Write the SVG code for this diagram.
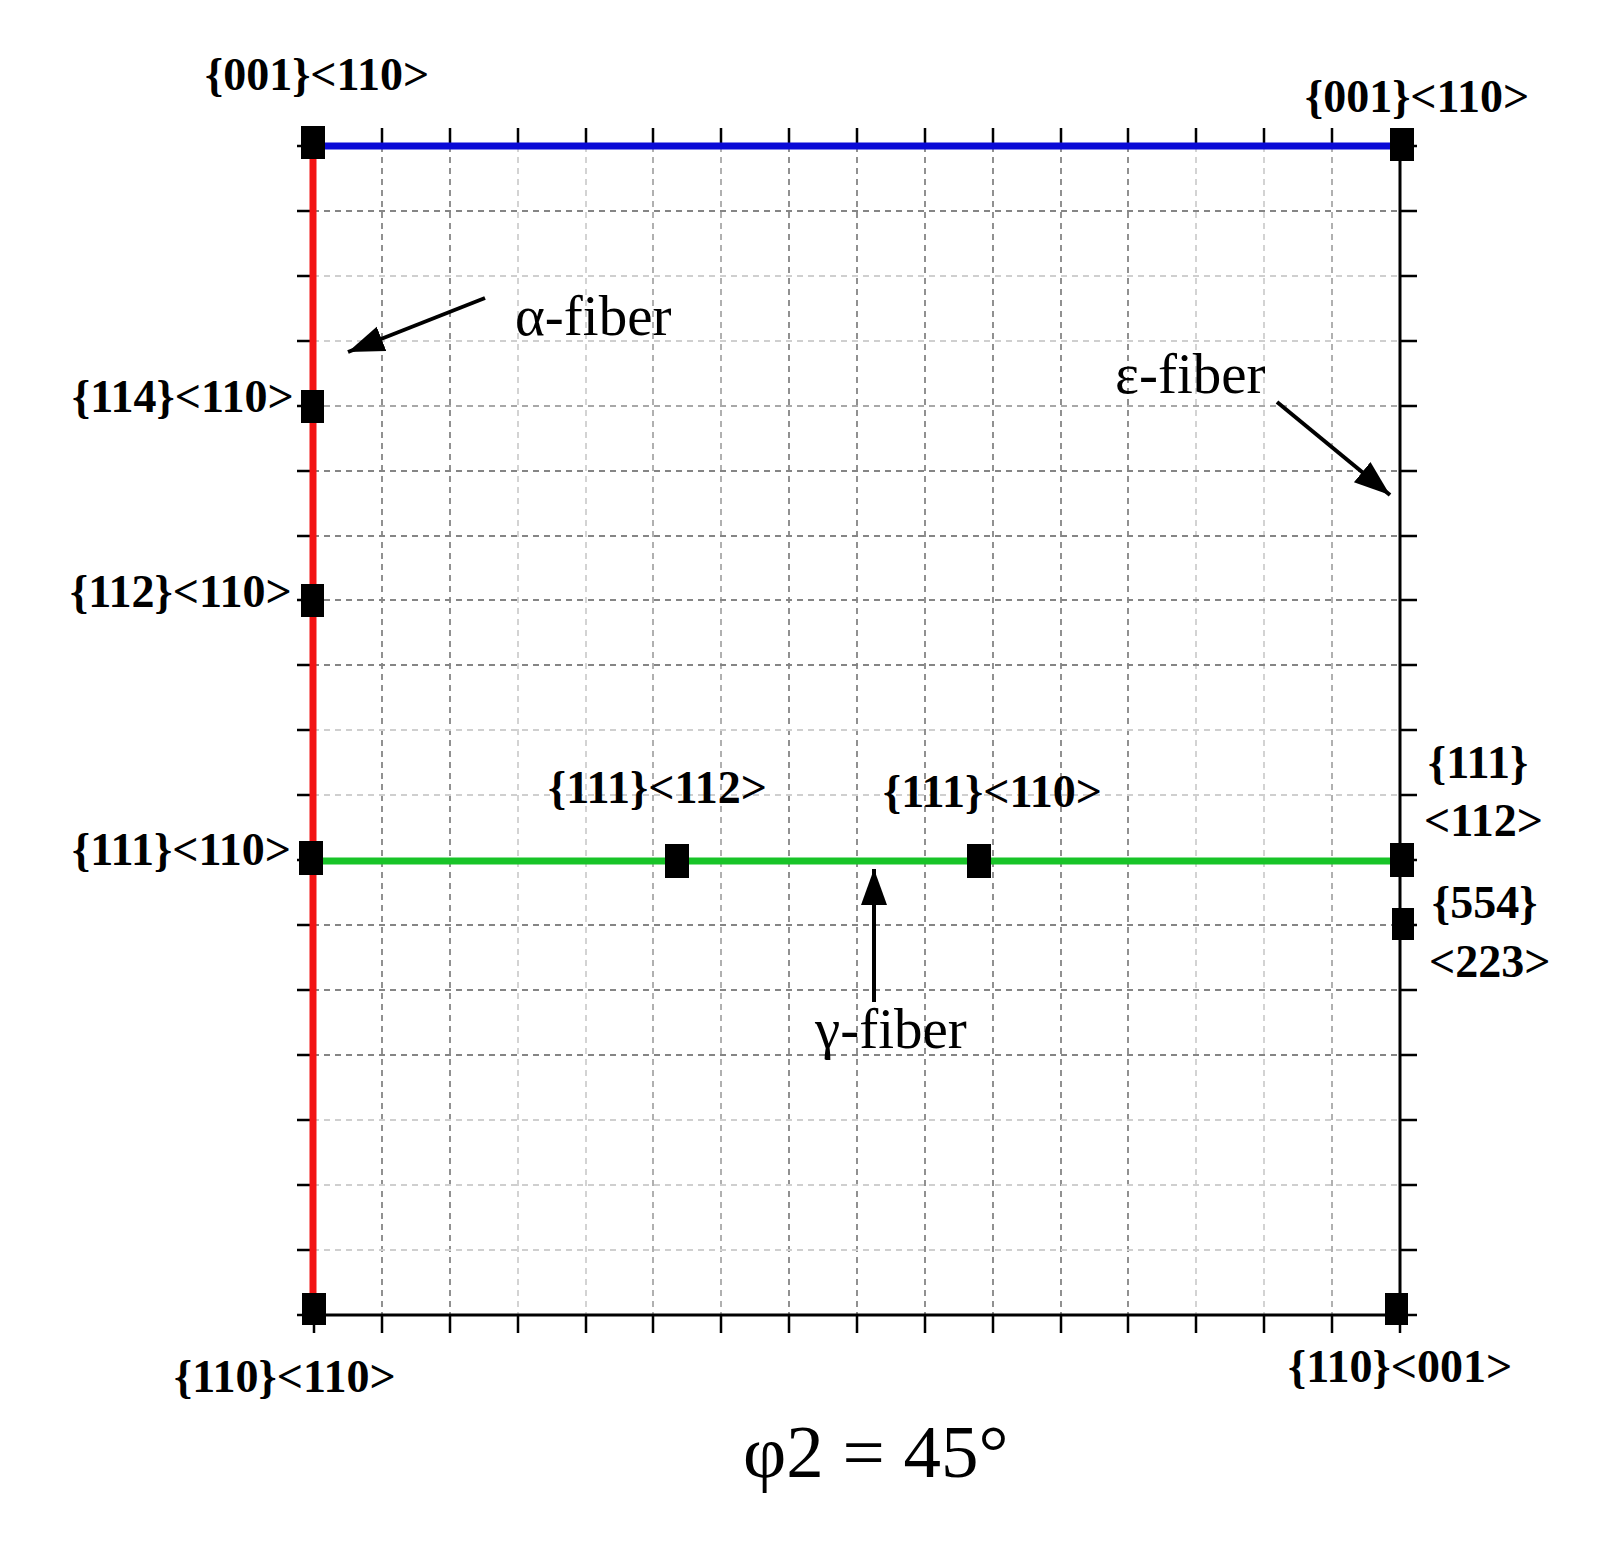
<svg xmlns="http://www.w3.org/2000/svg" width="1606" height="1562" viewBox="0 0 1606 1562">
<style>
.lbl{font-family:"Liberation Serif","Times New Roman",serif;font-weight:bold;font-size:46px;fill:#000}
.fib{font-family:"Liberation Serif","Times New Roman",serif;font-size:57px;fill:#000}
.ttl{font-family:"Liberation Serif","Times New Roman",serif;font-size:75px;fill:#000}
.gd{stroke:#858585;stroke-width:1.8;stroke-dasharray:6 5;fill:none}
.gl{stroke:#cfcfcf;stroke-width:1.8;stroke-dasharray:6 5;fill:none}
.gm{stroke:#a8a8a8;stroke-width:1.8;stroke-dasharray:6 5;fill:none}
.tk{stroke:#000;stroke-width:2.5}
.sq{fill:#000}
.arr{stroke:#000;stroke-width:4;fill:none}
</style>
<defs>
<marker id="ah" markerUnits="userSpaceOnUse" markerWidth="40" markerHeight="30" refX="36" refY="13" orient="auto">
<path d="M0,0 L36,13 L0,26 z" fill="#000"/>
</marker>
</defs>
<rect width="1606" height="1562" fill="#fff"/>
<g id="grid">
<line class="gd" x1="382" y1="146" x2="382" y2="1315"/>
<line class="gd" x1="450" y1="146" x2="450" y2="1315"/>
<line class="gl" x1="518" y1="146" x2="518" y2="1315"/>
<line class="gl" x1="586" y1="146" x2="586" y2="1315"/>
<line class="gm" x1="653" y1="146" x2="653" y2="1315"/>
<line class="gm" x1="721" y1="146" x2="721" y2="1315"/>
<line class="gd" x1="789" y1="146" x2="789" y2="1315"/>
<line class="gd" x1="857" y1="146" x2="857" y2="1315"/>
<line class="gd" x1="925" y1="146" x2="925" y2="1315"/>
<line class="gd" x1="993" y1="146" x2="993" y2="1315"/>
<line class="gd" x1="1061" y1="146" x2="1061" y2="1315"/>
<line class="gd" x1="1128" y1="146" x2="1128" y2="1315"/>
<line class="gl" x1="1196" y1="146" x2="1196" y2="1315"/>
<line class="gl" x1="1264" y1="146" x2="1264" y2="1315"/>
<line class="gm" x1="1332" y1="146" x2="1332" y2="1315"/>
<line class="gd" x1="313" y1="211" x2="1400" y2="211"/>
<line class="gl" x1="313" y1="276" x2="1400" y2="276"/>
<line class="gl" x1="313" y1="341" x2="1400" y2="341"/>
<line class="gm" x1="313" y1="406" x2="1400" y2="406"/>
<line class="gd" x1="313" y1="471" x2="1400" y2="471"/>
<line class="gd" x1="313" y1="536" x2="1400" y2="536"/>
<line class="gd" x1="313" y1="600" x2="1400" y2="600"/>
<line class="gd" x1="313" y1="665" x2="1400" y2="665"/>
<line class="gl" x1="313" y1="730" x2="1400" y2="730"/>
<line class="gl" x1="313" y1="795" x2="1400" y2="795"/>
<line class="gd" x1="313" y1="925" x2="1400" y2="925"/>
<line class="gd" x1="313" y1="990" x2="1400" y2="990"/>
<line class="gd" x1="313" y1="1055" x2="1400" y2="1055"/>
<line class="gl" x1="313" y1="1120" x2="1400" y2="1120"/>
<line class="gl" x1="313" y1="1185" x2="1400" y2="1185"/>
<line class="gl" x1="313" y1="1250" x2="1400" y2="1250"/>
</g>
<g id="axes">
<line x1="1400" y1="146" x2="1400" y2="1316" stroke="#000" stroke-width="3"/>
<line x1="313" y1="1315" x2="1401" y2="1315" stroke="#000" stroke-width="3"/>
<path class="tk" d="M314,128V146 M382,128V146 M450,128V146 M518,128V146 M586,128V146 M653,128V146 M721,128V146 M789,128V146 M857,128V146 M925,128V146 M993,128V146 M1061,128V146 M1128,128V146 M1196,128V146 M1264,128V146 M1332,128V146 M1400,128V146"/>
<path class="tk" d="M314,1315V1333 M382,1315V1333 M450,1315V1333 M518,1315V1333 M586,1315V1333 M653,1315V1333 M721,1315V1333 M789,1315V1333 M857,1315V1333 M925,1315V1333 M993,1315V1333 M1061,1315V1333 M1128,1315V1333 M1196,1315V1333 M1264,1315V1333 M1332,1315V1333 M1400,1315V1333"/>
<path class="tk" d="M297,146H313 M297,211H313 M297,276H313 M297,341H313 M297,406H313 M297,471H313 M297,536H313 M297,600H313 M297,665H313 M297,730H313 M297,795H313 M297,860H313 M297,925H313 M297,990H313 M297,1055H313 M297,1120H313 M297,1185H313 M297,1250H313 M297,1315H313"/>
<path class="tk" d="M1400,146H1417 M1400,211H1417 M1400,276H1417 M1400,341H1417 M1400,406H1417 M1400,471H1417 M1400,536H1417 M1400,600H1417 M1400,665H1417 M1400,730H1417 M1400,795H1417 M1400,860H1417 M1400,925H1417 M1400,990H1417 M1400,1055H1417 M1400,1120H1417 M1400,1185H1417 M1400,1250H1417 M1400,1315H1417"/>
</g>
<g id="connectors">
<line id="alpha-fiber-line" x1="313" y1="146" x2="313" y2="1312" stroke="#f21414" stroke-width="7"/>
<line id="blue-line" x1="313" y1="146" x2="1400" y2="146" stroke="#0a0ad6" stroke-width="7"/>
<line id="gamma-fiber-line" x1="313" y1="861" x2="1400" y2="861" stroke="#18c428" stroke-width="7"/>
<line class="arr" x1="485" y1="298" x2="348" y2="352" marker-end="url(#ah)"/>
<line class="arr" x1="1277" y1="402" x2="1390" y2="495" marker-end="url(#ah)"/>
<line class="arr" x1="874" y1="1002" x2="874" y2="869" marker-end="url(#ah)"/>
</g>
<g id="n001-110-left"><rect class="sq" x="301" y="126" width="24" height="33"/><text class="lbl" x="205" y="90">{001}&lt;110&gt;</text></g>
<g id="n001-110-right"><rect class="sq" x="1390" y="128" width="24" height="33"/><text class="lbl" x="1305" y="112">{001}&lt;110&gt;</text></g>
<g id="n114-110"><rect class="sq" x="301" y="390" width="23" height="33"/><text class="lbl" x="72" y="412">{114}&lt;110&gt;</text></g>
<g id="n112-110"><rect class="sq" x="301" y="584" width="23" height="33"/><text class="lbl" x="70" y="607">{112}&lt;110&gt;</text></g>
<g id="n111-110-left"><rect class="sq" x="299" y="841" width="24" height="34"/><text class="lbl" x="72" y="865">{111}&lt;110&gt;</text></g>
<g id="n110-110"><rect class="sq" x="302" y="1293" width="24" height="32"/><text class="lbl" x="174" y="1392">{110}&lt;110&gt;</text></g>
<g id="n110-001"><rect class="sq" x="1385" y="1293" width="23" height="32"/><text class="lbl" x="1288" y="1382">{110}&lt;001&gt;</text></g>
<g id="n111-112-mid"><rect class="sq" x="665" y="844" width="24" height="34"/><text class="lbl" x="548" y="803">{111}&lt;112&gt;</text></g>
<g id="n111-110-mid"><rect class="sq" x="967" y="844" width="24" height="34"/><text class="lbl" x="883" y="807">{111}&lt;110&gt;</text></g>
<g id="n111-112-right"><rect class="sq" x="1390" y="843" width="24" height="34"/><text class="lbl" x="1428" y="778">{111}</text><text class="lbl" x="1424" y="836">&lt;112&gt;</text></g>
<g id="n554-223"><rect class="sq" x="1392" y="908" width="22" height="32"/><text class="lbl" x="1432" y="918">{554}</text><text class="lbl" x="1429" y="977">&lt;223&gt;</text></g>
<g id="labels">
<text class="fib" x="515" y="335">α-fiber</text>
<text class="fib" x="1115" y="393">ε-fiber</text>
<text class="fib" x="815" y="1048">γ-fiber</text>
<text class="ttl" x="743" y="1477">φ2 = 45°</text>
</g>
</svg>
